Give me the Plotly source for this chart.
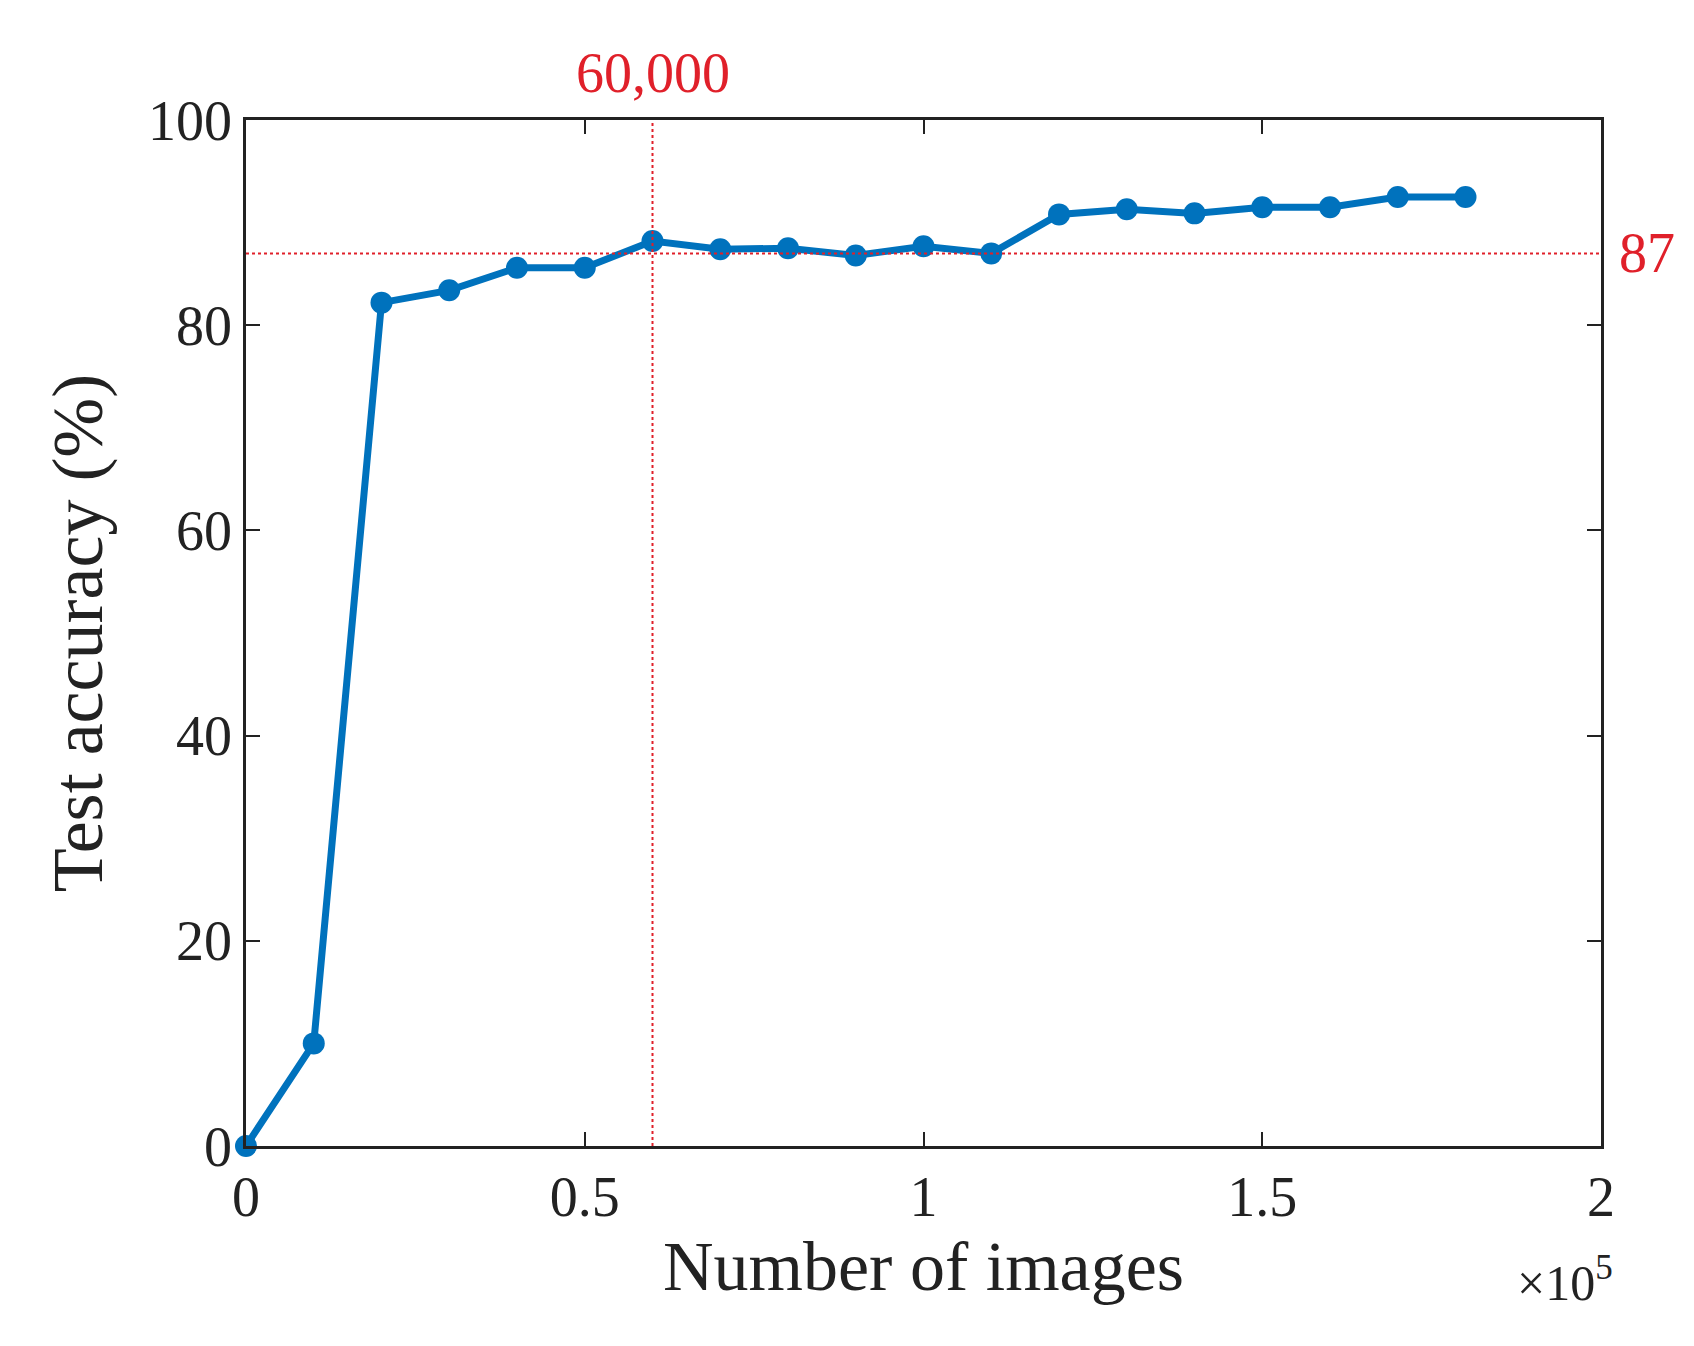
import plotly.graph_objects as go

# training set size vs test accuracy
num_images = [0, 10000, 20000, 30000, 40000, 50000, 60000, 70000, 80000, 90000,
              100000, 110000, 120000, 130000, 140000, 150000, 160000, 170000, 180000]
accuracy = [0, 10, 82.2, 83.4, 85.6, 85.6, 88.2, 87.4, 87.5, 86.8,
            87.7, 87.0, 90.8, 91.3, 90.9, 91.5, 91.5, 92.5, 92.5]
x_ticks = [0, 50000, 100000, 150000, 200000]
x_tick_labels = ["0", "0.5", "1", "1.5", "2"]
y_ticks = [0, 20, 40, 60, 80, 100]
ref_x = 60000
ref_y = 87

font = "Liberation Serif"
red = "#e0202a"

fig = go.Figure()
fig.add_trace(go.Scatter(
    x=num_images, y=accuracy, mode="lines+markers",
    line={"color": "#0072bd", "width": 7},
    marker={"color": "#0072bd", "size": 22},
    cliponaxis=False,
))

fig.add_shape(type="line", x0=ref_x, x1=ref_x, y0=0, y1=100, xref="x", yref="y",
              line={"color": red, "width": 2, "dash": "dot"})
fig.add_shape(type="line", x0=0, x1=200000, y0=ref_y, y1=ref_y, xref="x", yref="y",
              line={"color": red, "width": 2, "dash": "dot"})

fig.add_annotation(x=ref_x, y=100, text="60,000", showarrow=False, yanchor="bottom",
                   yshift=14, font={"family": font, "size": 56, "color": red})
fig.add_annotation(x=200000, y=ref_y, text="87", showarrow=False, xanchor="left",
                   xshift=16, font={"family": font, "size": 56, "color": red})
fig.add_annotation(x=1, y=0, xref="paper", yref="paper", text="×10<sup>5</sup>",
                   showarrow=False, xanchor="right", yanchor="top", yshift=-100,
                   xshift=14, font={"family": font, "size": 50, "color": "#222"})

axis_common = dict(
    showgrid=False, zeroline=False, showline=True, linecolor="#222", linewidth=2.5,
    mirror="ticks", ticks="inside", ticklen=14, tickwidth=2, tickcolor="#222",
    tickfont={"family": font, "size": 56, "color": "#222"},
)
fig.update_xaxes(range=[0, 200000], tickvals=x_ticks, ticktext=x_tick_labels,
                 title={"text": "Number of images", "font": {"family": font, "size": 70, "color": "#222"}, "standoff": 8},
                 **axis_common)
fig.update_yaxes(range=[0, 100], tickvals=y_ticks,
                 title={"text": "Test accuracy (%)", "font": {"family": font, "size": 72, "color": "#222"}, "standoff": 22},
                 **axis_common)

fig.update_layout(
    width=1694, height=1346, showlegend=False,
    plot_bgcolor="white", paper_bgcolor="white",
    margin={"l": 238, "r": 101, "t": 112, "b": 208},
)

fig.write_html("out.html")
